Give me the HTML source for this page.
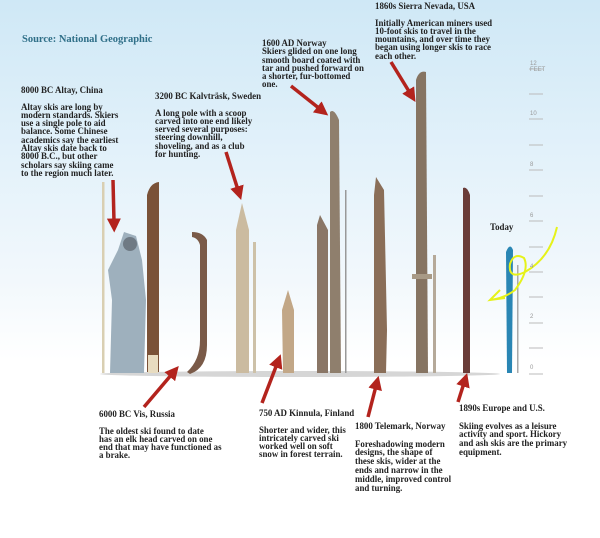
<!DOCTYPE html>
<html><head><meta charset="utf-8"><style>
body{margin:0;width:600px;height:538px;overflow:hidden;background:#fff}
#bg{position:absolute;left:0;top:0;width:600px;height:538px;background:linear-gradient(#cfe8f6 0px,#e2f1fa 150px,#f2f8fc 280px,#fff 360px,#fff 538px)}
.t{position:absolute;font-family:"Liberation Serif",serif;font-weight:bold;font-size:8.9px;line-height:8.3px;color:#222;white-space:nowrap}
.sc{position:absolute;font-family:"Liberation Sans",sans-serif;font-size:6px;color:#999}
</style></head><body>
<div id="bg"></div>
<svg width="600" height="538" style="position:absolute;left:0;top:0">
<defs><marker id="a" markerWidth="4" markerHeight="4" refX="1" refY="2" orient="auto"><path d="M0 0 L4 2 L0 4 Z" fill="#b3231d"/></marker></defs>
<g fill="#d6d6d6"><ellipse cx="300" cy="374" rx="200" ry="3"/></g>
<path d="M110 373 L112 300 L108 270 L118 250 L124 232 L136 236 L142 260 L146 300 L144 373 Z" fill="#9eb0bd"/>
<circle cx="130" cy="244" r="7" fill="#6f7a84"/>
<rect x="102" y="182" width="2.5" height="191" fill="#d9cfb2"/>
<path d="M147 372 L147 195 Q150 183 159 182 L159 372 Z" fill="#7a5238"/>
<rect x="148" y="355" width="10" height="18" fill="#e8dcc0"/>
<path d="M192 232 Q203 232 207 240 L207 345 Q207 368 190 374 L187 372 Q200 360 200 340 L200 245 Q198 238 192 237 Z" fill="#7a5a48"/>
<path d="M236 373 L236 230 L242 203 L249 230 L249 373 Z" fill="#cbbba0"/>
<rect x="253" y="242" width="3" height="131" fill="#cdc1a8"/>
<path d="M283 373 L282 310 L288 290 L294 310 L294 373 Z" fill="#c2a787"/>
<path d="M317 373 L317 225 L320 215 L328 230 L328 373 Z" fill="#8a7666"/>
<path d="M330 373 L330 112 Q334 108 339 120 L341 373 Z" fill="#8f7f6d"/>
<rect x="345" y="190" width="1.5" height="183" fill="#999"/>
<path d="M374 373 L374 195 L376 177 L384 190 L387 330 L386 373 Z" fill="#8a6e58"/>
<path d="M416 373 L416 80 Q419 70 426 72 L428 373 Z" fill="#867462"/>
<rect x="412" y="274" width="20" height="5" fill="#a89a86"/>
<rect x="433" y="255" width="3" height="118" fill="#b5a999"/>
<path d="M463 373 L463 188 Q467 186 470 195 L470 373 Z" fill="#6a3c38"/>
<path d="M507 373 L506 252 Q510 242 513 250 L512 373 Z" fill="#2a86b4"/>
<rect x="517" y="265" width="1.5" height="108" fill="#aaa"/>
<g stroke="#bbb" stroke-width="1">
<line x1="529" y1="69" x2="543" y2="69"/><line x1="529" y1="94" x2="543" y2="94"/><line x1="529" y1="119" x2="543" y2="119"/><line x1="529" y1="145" x2="543" y2="145"/><line x1="529" y1="170" x2="543" y2="170"/><line x1="529" y1="196" x2="543" y2="196"/><line x1="529" y1="221" x2="543" y2="221"/><line x1="529" y1="247" x2="543" y2="247"/><line x1="529" y1="272" x2="543" y2="272"/><line x1="529" y1="297" x2="543" y2="297"/><line x1="529" y1="323" x2="543" y2="323"/><line x1="529" y1="348" x2="543" y2="348"/><line x1="529" y1="374" x2="543" y2="374"/>
</g>
<g stroke="#b3231d" stroke-width="3.5" marker-end="url(#a)">
<line x1="113" y1="180" x2="114" y2="222"/>
<line x1="226" y1="152" x2="238" y2="190"/>
<line x1="291" y1="86" x2="320" y2="109"/>
<line x1="391" y1="62" x2="410" y2="93"/>
<line x1="144" y1="407" x2="172" y2="374"/>
<line x1="262" y1="403" x2="277" y2="364"/>
<line x1="368" y1="417" x2="376" y2="386"/>
<line x1="458" y1="402" x2="464" y2="383"/>
</g>
<path d="M557 227 Q550 258 525 272 Q508 280 510 264 Q514 252 524 258 Q530 270 515 290 Q505 298 490 300 M500 290 L490 300 L505 298" fill="none" stroke="#e6f21a" stroke-width="2"/>
</svg>
<div class="sc" style="left:530px;top:61px">12<br>FEET</div>
<div class="sc" style="left:530px;top:111px">10</div>
<div class="sc" style="left:530px;top:162px">8</div>
<div class="sc" style="left:530px;top:213px">6</div>
<div class="sc" style="left:530px;top:264px">4</div>
<div class="sc" style="left:530px;top:314px">2</div>
<div class="sc" style="left:530px;top:365px">0</div>
<div class="t" style="left:22px;top:36px;font-size:10.5px;color:#2f6f88">Source: National Geographic</div>
<div class="t" style="left:21px;top:86px">8000 BC Altay, China<br><br>Altay skis are long by<br>modern standards. Skiers<br>use a single pole to aid<br>balance. Some Chinese<br>academics say the earliest<br>Altay skis date back to<br>8000 B.C., but other<br>scholars say skiing came<br>to the region much later.</div>
<div class="t" style="left:155px;top:92px">3200 BC Kalvträsk, Sweden<br><br>A long pole with a scoop<br>carved into one end likely<br>served several purposes:<br>steering downhill,<br>shoveling, and as a club<br>for hunting.</div>
<div class="t" style="left:262px;top:39px">1600 AD Norway<br>Skiers glided on one long<br>smooth board coated with<br>tar and pushed forward on<br>a shorter, fur-bottomed<br>one.</div>
<div class="t" style="left:375px;top:2px">1860s Sierra Nevada, USA<br><br>Initially American miners used<br>10-foot skis to travel in the<br>mountains, and over time they<br>began using longer skis to race<br>each other.</div>
<div class="t" style="left:490px;top:223px">Today</div>
<div class="t" style="left:99px;top:410px">6000 BC Vis, Russia<br><br>The oldest ski found to date<br>has an elk head carved on one<br>end that may have functioned as<br>a brake.</div>
<div class="t" style="left:259px;top:409px">750 AD Kinnula, Finland<br><br>Shorter and wider, this<br>intricately carved ski<br>worked well on soft<br>snow in forest terrain.</div>
<div class="t" style="left:355px;top:422px;line-height:8.8px">1800 Telemark, Norway<br><br>Foreshadowing modern<br>designs, the shape of<br>these skis, wider at the<br>ends and narrow in the<br>middle, improved control<br>and turning.</div>
<div class="t" style="left:459px;top:404px;line-height:8.8px">1890s Europe and U.S.<br><br>Skiing evolves as a leisure<br>activity and sport. Hickory<br>and ash skis are the primary<br>equipment.</div>
</body></html>
